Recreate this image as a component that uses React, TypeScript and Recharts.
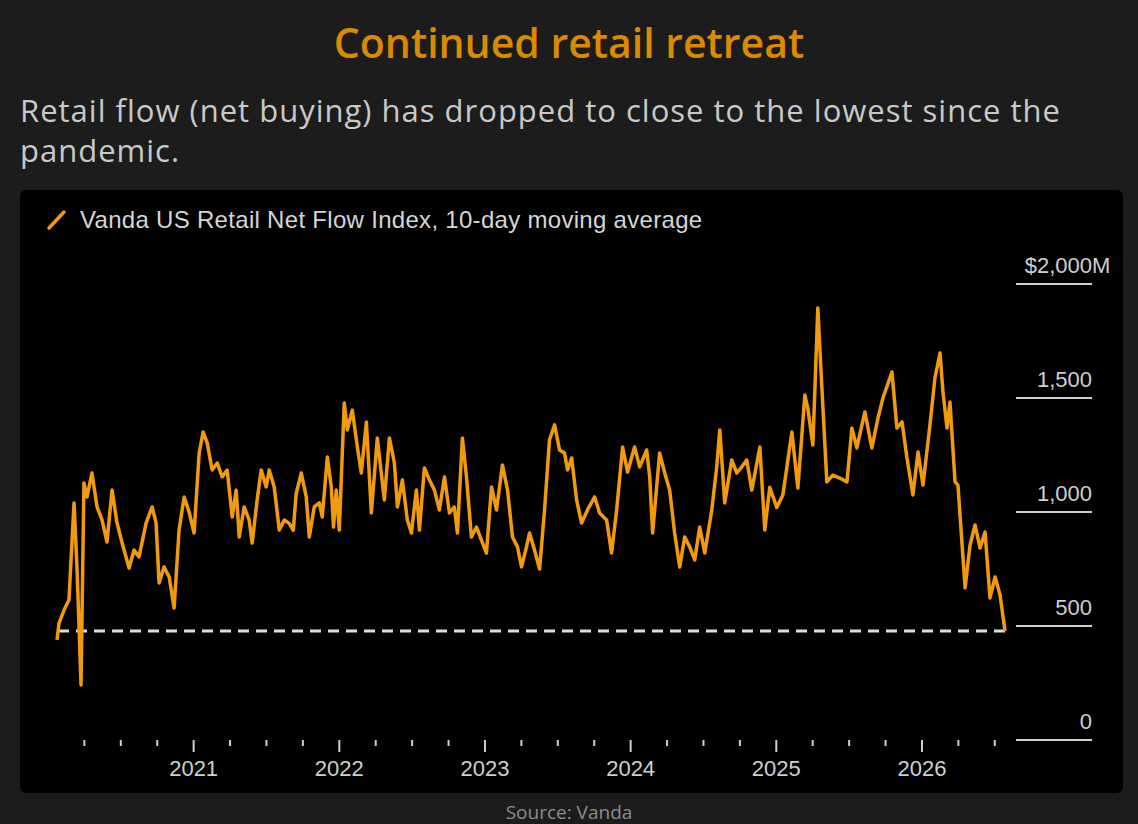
import { Line, LineChart, ReferenceLine, XAxis, YAxis } from "recharts"

// decimal years
const dates = [
  2020.062, 2020.076, 2020.11, 2020.144, 2020.179, 2020.199, 2020.227, 2020.247, 2020.268, 2020.302,
  2020.337, 2020.371, 2020.405, 2020.44, 2020.474, 2020.509, 2020.557, 2020.591, 2020.625, 2020.674,
  2020.715, 2020.742, 2020.763, 2020.797, 2020.832, 2020.866, 2020.9, 2020.935, 2020.969, 2021.003,
  2021.038, 2021.065, 2021.093, 2021.127, 2021.162, 2021.196, 2021.23, 2021.265, 2021.292, 2021.313,
  2021.347, 2021.381, 2021.402, 2021.436, 2021.464, 2021.498, 2021.519, 2021.553, 2021.588, 2021.622,
  2021.656, 2021.684, 2021.704, 2021.739, 2021.773, 2021.794, 2021.828, 2021.863, 2021.883, 2021.918,
  2021.945, 2021.96, 2021.979, 2022.0, 2022.034, 2022.055, 2022.089, 2022.124, 2022.151, 2022.186,
  2022.22, 2022.261, 2022.309, 2022.344, 2022.378, 2022.399, 2022.433, 2022.467, 2022.495, 2022.529,
  2022.55, 2022.584, 2022.619, 2022.653, 2022.687, 2022.722, 2022.756, 2022.79, 2022.811, 2022.845,
  2022.873, 2022.907, 2022.942, 2022.976, 2023.01, 2023.045, 2023.079, 2023.12, 2023.155, 2023.189,
  2023.223, 2023.251, 2023.285, 2023.306, 2023.34, 2023.375, 2023.409, 2023.443, 2023.478, 2023.512,
  2023.546, 2023.567, 2023.595, 2023.629, 2023.663, 2023.704, 2023.753, 2023.787, 2023.835, 2023.869,
  2023.904, 2023.945, 2023.979, 2024.027, 2024.062, 2024.11, 2024.131, 2024.151, 2024.199, 2024.234,
  2024.268, 2024.302, 2024.337, 2024.371, 2024.405, 2024.44, 2024.474, 2024.509, 2024.557, 2024.591,
  2024.612, 2024.646, 2024.694, 2024.729, 2024.763, 2024.797, 2024.832, 2024.887, 2024.921, 2024.955,
  2025.003, 2025.045, 2025.107, 2025.148, 2025.196, 2025.216, 2025.251, 2025.285, 2025.313, 2025.347,
  2025.388, 2025.436, 2025.485, 2025.519, 2025.553, 2025.608, 2025.656, 2025.698, 2025.732, 2025.794,
  2025.828, 2025.863, 2025.897, 2025.938, 2025.973, 2026.007, 2026.055, 2026.089, 2026.124, 2026.144,
  2026.172, 2026.192, 2026.227, 2026.247, 2026.296, 2026.33, 2026.364, 2026.399, 2026.433, 2026.467,
  2026.502, 2026.536, 2026.57,
]

// net flow, $M (10-day moving average)
const flow = [
  439, 513, 570, 614, 1040, 759, 241, 1127, 1066, 1171,
  1022, 965, 868, 1096, 952, 864, 754, 833, 803, 952,
  1022, 952, 689, 759, 715, 579, 921, 1066, 1000, 908,
  1259, 1351, 1303, 1184, 1215, 1154, 1184, 978, 1096, 890,
  1022, 965, 864, 1053, 1184, 1110, 1184, 1110, 921, 965,
  950, 920, 1080, 1171, 1066, 890, 1022, 1040, 978, 1241,
  1110, 934, 1096, 921, 1478, 1360, 1447, 1285, 1171, 1395,
  996, 1325, 1053, 1325, 1215, 1022, 1140, 965, 908, 1096,
  921, 1193, 1140, 1096, 1009, 1154, 996, 1022, 908, 1325,
  1154, 890, 934, 877, 820, 1110, 1009, 1206, 1096, 890,
  847, 759, 847, 908, 833, 750, 1009, 1316, 1382, 1272,
  1259, 1184, 1237, 1053, 952, 1009, 1066, 996, 965, 820,
  1009, 1285, 1175, 1285, 1198, 1272, 1154, 908, 1259, 1171,
  1096, 908, 759, 890, 847, 790, 934, 820, 1009, 1198,
  1360, 1040, 1228, 1171, 1198, 1228, 1096, 1285, 921, 1108,
  1020, 1075, 1351, 1105, 1513, 1456, 1294, 1895, 1544, 1132,
  1162, 1149, 1132, 1368, 1281, 1439, 1281, 1412, 1500, 1614,
  1368, 1395, 1237, 1075, 1263, 1118, 1382, 1588, 1697, 1527,
  1368, 1482, 1132, 1118, 667, 855, 943, 842, 912, 623,
  715, 636, 478,
]

const xTicks = [
  2020.25, 2020.5, 2020.75, 2021, 2021.25, 2021.5, 2021.75, 2022, 2022.25, 2022.5, 2022.75,
  2023, 2023.25, 2023.5, 2023.75, 2024, 2024.25, 2024.5, 2024.75, 2025, 2025.25, 2025.5,
  2025.75, 2026, 2026.25, 2026.5,
]
const yTicks = [0, 500, 1000, 1500, 2000]
const yLabels = ["0", "500", "1,000", "1,500", "$2,000"]
const latestLevel = 478

const data = dates.map((d, i) => ({ date: d, flow: flow[i] }))

const chartFont = "'Liberation Sans', Arial, sans-serif"
const axisGrey = "#cfcfcf"

function YearTick(props: any) {
  const { x, y, payload } = props
  const isYear = Math.abs(payload.value - Math.round(payload.value)) < 1e-6
  return (
    <g>
      <line x1={x} x2={x} y1={y} y2={y + (isYear ? 12 : 6)} stroke={axisGrey} strokeWidth={2} />
      {isYear && (
        <text x={x} y={y + 36} textAnchor="middle" fontSize={22} fill={axisGrey} fontFamily={chartFont}>
          {Math.round(payload.value)}
        </text>
      )}
    </g>
  )
}

function ValueTick(props: any) {
  const { x, y, payload } = props
  const idx = yTicks.indexOf(payload.value)
  const isTop = idx === yTicks.length - 1
  return (
    <g>
      <line x1={x + 11} x2={x + 87} y1={y} y2={y} stroke={axisGrey} strokeWidth={2} />
      <text x={x + 87} y={y - 11} textAnchor="end" fontSize={22} fill={axisGrey} fontFamily={chartFont}>
        {yLabels[idx]}
      </text>
      {isTop && (
        <text x={x + 87} y={y - 11} textAnchor="start" fontSize={22} fill={axisGrey} fontFamily={chartFont}>
          M
        </text>
      )}
    </g>
  )
}

export default function App() {
  return (
    <div
      style={{
        position: "fixed",
        left: 0,
        top: 0,
        width: 1138,
        height: 824,
        background: "#1c1c1c",
        fontFamily: "'Open Sans', sans-serif",
        overflow: "hidden",
      }}
    >
      <div
        style={{
          position: "absolute",
          top: 14,
          width: "100%",
          textAlign: "center",
          color: "#db8a00",
          fontSize: 41,
          fontWeight: 600,
          lineHeight: "56px",
        }}
      >
        Continued retail retreat
      </div>
      <div
        style={{
          position: "absolute",
          top: 90,
          left: 20,
          width: 1110,
          color: "#c9c9c9",
          fontSize: 31,
          letterSpacing: 1,
          lineHeight: "40px",
          whiteSpace: "nowrap",
        }}
      >
        Retail flow (net buying) has dropped to close to the lowest since the
        <br />
        pandemic.
      </div>

      <div
        style={{
          position: "absolute",
          left: 20,
          top: 190,
          width: 1103,
          height: 603,
          background: "#000",
          borderRadius: 6,
        }}
      >
        <div
          style={{
            position: "absolute",
            left: 26,
            top: 16,
            display: "flex",
            alignItems: "center",
            fontFamily: chartFont,
            fontSize: 24,
            letterSpacing: 0.3,
            color: "#d6d6d6",
          }}
        >
          <svg width={22} height={24} style={{ marginRight: 12 }}>
            <line x1={3} y1={20} x2={18} y2={4} stroke="#f29a0e" strokeWidth={3.5} strokeLinecap="round" />
          </svg>
          Vanda US Retail Net Flow Index, 10-day moving average
        </div>

        <LineChart width={1103} height={603} data={data} margin={{ top: 94, right: 0, left: 37, bottom: 0 }}>
          <XAxis
            dataKey="date"
            type="number"
            domain={[2020.062, 2026.57]}
            ticks={xTicks}
            interval={0}
            height={53}
            axisLine={false}
            tickLine={false}
            tickSize={0}
            tickMargin={0}
            tick={YearTick}
          />
          <YAxis
            orientation="right"
            domain={[0, 2000]}
            ticks={yTicks}
            interval={0}
            width={118}
            axisLine={false}
            tickLine={false}
            tickSize={0}
            tickMargin={0}
            tick={ValueTick}
          />
          <ReferenceLine y={latestLevel} stroke="#dedede" strokeWidth={3} strokeDasharray="11 7" />
          <Line
            dataKey="flow"
            type="linear"
            stroke="#f29a0e"
            strokeWidth={3.5}
            strokeLinejoin="round"
            dot={false}
            isAnimationActive={false}
          />
        </LineChart>
      </div>

      <div
        style={{
          position: "absolute",
          top: 802,
          width: "100%",
          textAlign: "center",
          color: "#8c8c8c",
          fontSize: 19,
          lineHeight: "20px",
        }}
      >
        Source: Vanda
      </div>
    </div>
  )
}
